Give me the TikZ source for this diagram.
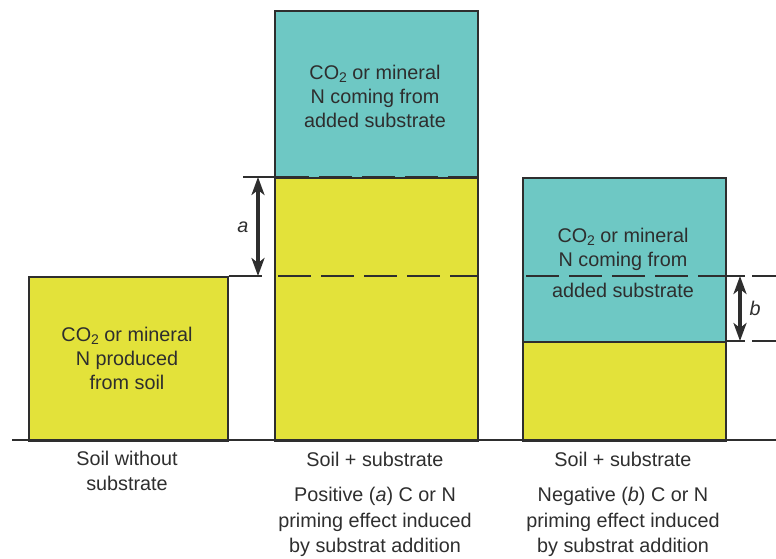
\documentclass[tikz,border=0pt]{standalone}
\usepackage{fontspec}
\setmainfont{Liberation Sans}
\usetikzlibrary{arrows.meta}
\definecolor{ylw}{HTML}{E3E23A}
\definecolor{tl}{HTML}{6EC8C4}
\definecolor{ink}{HTML}{2E2E2E}
\newcommand{\cotwo}{CO\raisebox{-0.35ex}{\fontsize{14}{14}\selectfont 2}}
\begin{document}
\begin{tikzpicture}[x=1pt,y=-1pt,
  box/.style={draw=ink, line width=1.6pt, inner sep=0pt, anchor=north west},
  txt/.style={font=\fontsize{19.8}{24}\selectfont, text=ink, align=center, inner sep=0pt},
  lbl/.style={font=\fontsize{19.8}{25.5}\selectfont, text=ink, align=center, inner sep=0pt},
  dsh/.style={draw=ink, line width=1.8pt, dash pattern=on 33pt off 10pt},
  tickln/.style={draw=ink, line width=1.2pt},
  arrtip/.tip={Stealth[length=18pt,width=13pt,inset=5pt]},
  dblarrow/.style={draw=ink, line width=3.2pt, arrtip-arrtip}]
\useasboundingbox (0,0) rectangle (776,558);
% baseline
\coordinate (g0) at (12,440);
\coordinate (g1) at (776,440);
% boxes
\node[box, fill=ylw, minimum width=199pt, minimum height=164pt] (b1) at (28,276) {};
\node[box, fill=tl, minimum width=203pt, minimum height=167pt] (b2t) at (274,10) {};
\node[box, fill=ylw, minimum width=203pt, minimum height=263pt] (b2y) at (274,177) {};
\node[box, fill=tl, minimum width=203pt, minimum height=164pt] (b3t) at (522,177) {};
\node[box, fill=ylw, minimum width=203pt, minimum height=99pt] (b3y) at (522,341) {};
\draw[draw=ink, line width=1.5pt] (g0) -- (g1);
% dashed lines
\draw[dsh, dash phase=-2pt] (b2y.north west) -- (b2y.north east);
\coordinate (d2l) at (274,276);
\coordinate (d2r) at (477,276);
\draw[dsh, dash phase=-4pt] (d2l) -- (d2r);
\coordinate (d3l) at (522,276);
\coordinate (d3r) at (725,276);
\draw[dsh, dash phase=-4pt] (d3l) -- (d3r);
% ticks for a
\coordinate (ta1) at (243,177);
\coordinate (tb1) at (262,276);
\draw[tickln] (ta1) -- (b2y.north west);
\draw[tickln] (b1.north east) -- (tb1);
\coordinate (a1) at (258,177);
\coordinate (a2) at (258,276);
\draw[dblarrow] (a1) -- (a2);
\node[txt, font=\fontsize{19.8}{24}\selectfont\itshape] (la) at (243,227) {a};
% ticks for b
\coordinate (tc0) at (725,276);
\coordinate (tc1) at (745,276);
\coordinate (tc2) at (752,276);
\coordinate (tc3) at (776,276);
\coordinate (td0) at (725,341);
\coordinate (td1) at (745,341);
\coordinate (td2) at (752,341);
\coordinate (td3) at (776,341);
\draw[tickln] (tc0) -- (tc1) (tc2) -- (tc3);
\draw[tickln] (td0) -- (td1) (td2) -- (td3);
\coordinate (bb1) at (740,276);
\coordinate (bb2) at (740,341);
\draw[dblarrow] (bb1) -- (bb2);
\node[txt, font=\fontsize{19.8}{24}\selectfont\itshape] (lb) at (755,308) {b};
% box texts
\node[txt] (t1) at (127,358) {\cotwo{} or mineral\\N produced\\from soil};
\node[txt] (t2) at (375,96) {\cotwo{} or mineral\\N coming from\\added substrate};
\node[txt] (t3) at (623,249) {\cotwo{} or mineral\\N coming from};
\node[txt] (t3b) at (623,290) {added substrate};
% captions
\node[lbl] (c1) at (127,471) {Soil without\\substrate};
\node[lbl] (c2) at (375,459) {Soil + substrate};
\node[lbl] (c2b) at (375,522) {Positive (\textit{a}) C or N\\priming effect induced\\by substrat addition};
\node[lbl] (c3) at (623,459) {Soil + substrate};
\node[lbl] (c3b) at (623,522) {Negative (\textit{b}) C or N\\priming effect induced\\by substrat addition};
\end{tikzpicture}
\end{document}
